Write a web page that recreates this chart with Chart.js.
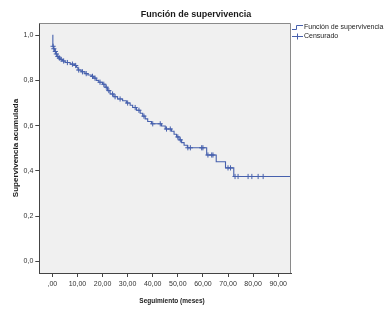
<!DOCTYPE html>
<html><head><meta charset="utf-8">
<script src="https://cdn.jsdelivr.net/npm/chart.js@4/dist/chart.umd.min.js"></script>
<style>html,body{margin:0;padding:0;background:#fff}canvas{display:block}</style>
</head><body>
<canvas id="c" width="390" height="314"></canvas>
<script>
// Kaplan-Meier step function (event times and survival after each event)
const stepTimes = [0, 0.2, 0.5, 0.9, 1.4, 1.9, 2.5, 3.1, 4.0, 5.1, 7.1, 9.0, 9.6, 10.2, 11.5, 13.0, 14.2, 15.5, 16.5, 17.5, 18.5, 20.0, 21.0, 22.0, 23.0, 24.5, 26.0, 28.0, 29.5, 31.0, 32.0, 33.5, 35.0, 36.0, 37.0, 38.0, 39.5, 43.5, 45.0, 47.5, 48.5, 49.5, 50.5, 51.5, 52.5, 53.8, 61.5, 65.3, 69.0, 72.3, 95.0];
const stepSurvival = [1.0, 0.951, 0.94, 0.928, 0.917, 0.906, 0.899, 0.893, 0.886, 0.879, 0.872, 0.866, 0.858, 0.846, 0.838, 0.830, 0.824, 0.818, 0.810, 0.800, 0.792, 0.783, 0.770, 0.755, 0.740, 0.728, 0.718, 0.710, 0.700, 0.690, 0.680, 0.668, 0.655, 0.642, 0.630, 0.618, 0.608, 0.598, 0.585, 0.575, 0.562, 0.550, 0.537, 0.525, 0.513, 0.502, 0.470, 0.440, 0.413, 0.375, 0.375];
// Censored observation times
const censorTimes = [0.3, 0.6, 1.2, 1.6, 2.2, 2.8, 3.5, 4.5, 6, 8, 9.3, 10.5, 12, 13.5, 16, 17, 19, 20.5, 21.5, 22.5, 24, 25, 27, 30, 33, 34.5, 36.5, 40, 43, 45.5, 47, 50, 51, 54, 55, 59.5, 60, 62, 63.5, 64, 70, 71, 72.8, 74, 78, 79.5, 82, 84];
const xTicks = [0, 10, 20, 30, 40, 50, 60, 70, 80, 90];
const xTickLabels = [',00', '10,00', '20,00', '30,00', '40,00', '50,00', '60,00', '70,00', '80,00', '90,00'];
const yTicks = [0, 0.2, 0.4, 0.6, 0.8, 1.0];
const yTickLabels = ['0,0', '0,2', '0,4', '0,6', '0,8', '1,0'];
const seriesNames = ['Función de supervivencia', 'Censurado'];
const chartTitle = 'Función de supervivencia';
const xTitle = 'Seguimiento (meses)';
const yTitle = 'Supervivencia acumulada';

const BLUE = '#4660ad';
const FONT = '"Liberation Sans", Arial, sans-serif';

function survivalAt(t) {
  let s = stepSurvival[0];
  for (let i = 0; i < stepTimes.length; i++) { if (stepTimes[i] <= t) s = stepSurvival[i]; }
  return s;
}
const kmData = stepTimes.map((t, i) => ({x: t, y: stepSurvival[i]}));
const censorData = censorTimes.map(t => ({x: t, y: survivalAt(t)}));

const decor = {
  id: 'decor',
  beforeDraw(chart) {
    const {ctx, chartArea: a} = chart;
    ctx.save();
    ctx.fillStyle = '#f0f0f0';
    ctx.fillRect(a.left, a.top, a.right - a.left, a.bottom - a.top);
    ctx.restore();
  },
  afterDraw(chart) {
    const {ctx, chartArea: a} = chart;
    ctx.save();
    ctx.strokeStyle = '#8a8a8a';
    ctx.lineWidth = 1;
    ctx.beginPath();
    ctx.moveTo(a.left, a.top + 0.5); ctx.lineTo(a.right - 0.5, a.top + 0.5); ctx.lineTo(a.right - 0.5, a.bottom);
    ctx.stroke();
    // title
    ctx.fillStyle = '#1a1a1a';
    ctx.textAlign = 'center';
    ctx.textBaseline = 'middle';
    ctx.font = 'bold 9px ' + FONT;
    ctx.fillText(chartTitle, 196, 15);
    ctx.font = 'bold 6.5px ' + FONT;
    ctx.fillText(xTitle, 172, 301);
    // legend
    ctx.strokeStyle = BLUE;
    ctx.lineWidth = 1;
    ctx.beginPath();
    ctx.moveTo(292, 29.5); ctx.lineTo(296.5, 29.5); ctx.lineTo(296.5, 25.5); ctx.lineTo(303, 25.5);
    ctx.stroke();
    ctx.beginPath();
    ctx.moveTo(292, 36.5); ctx.lineTo(303, 36.5);
    ctx.moveTo(297.5, 33.5); ctx.lineTo(297.5, 39.5);
    ctx.stroke();
    ctx.fillStyle = '#222';
    ctx.textAlign = 'left';
    ctx.font = '7px ' + FONT;
    ctx.fillText(seriesNames[0], 304, 27.5);
    ctx.fillText(seriesNames[1], 304, 36.5);
    ctx.restore();
  }
};

new Chart(document.getElementById('c'), {
  type: 'line',
  data: {
    datasets: [
      {label: seriesNames[0], data: kmData, stepped: true, borderColor: BLUE, borderWidth: 1.1, pointRadius: 0, fill: false},
      {label: seriesNames[1], data: censorData, showLine: false, borderColor: BLUE, backgroundColor: BLUE, pointStyle: 'cross', pointRadius: 2.6, pointBorderWidth: 1}
    ]
  },
  options: {
    responsive: false,
    animation: false,
    layout: {padding: {left: 0, right: 99, top: 23, bottom: 0}},
    plugins: {legend: {display: false}, title: {display: false}, tooltip: {enabled: false}},
    scales: {
      x: {
        type: 'linear', min: -5.2, max: 95.1,
        afterBuildTicks: s => { s.ticks = xTicks.map(v => ({value: v})); },
        afterFit: s => { s.height = 41; },
        ticks: {autoSkip: false, maxRotation: 0, padding: 3, color: '#333', font: {family: FONT, size: 7},
          callback: v => { const i = xTicks.indexOf(v); return i >= 0 ? xTickLabels[i] : ''; }},
        grid: {drawOnChartArea: false, drawTicks: true, tickLength: 4, color: '#444'},
        border: {display: true, color: '#444', width: 1}
      },
      y: {
        type: 'linear', min: -0.052, max: 1.054,
        afterBuildTicks: s => { s.ticks = yTicks.map(v => ({value: v})); },
        afterFit: s => { s.width = 39.3; },
        ticks: {autoSkip: false, padding: 2, color: '#333', font: {family: FONT, size: 7},
          callback: v => { const i = yTicks.findIndex(t => Math.abs(t - v) < 1e-9); return i >= 0 ? yTickLabels[i] : ''; }},
        grid: {drawOnChartArea: false, drawTicks: true, tickLength: 4, color: '#444'},
        border: {display: true, color: '#444', width: 1},
        title: {display: true, text: yTitle, color: '#1a1a1a', font: {family: FONT, size: 8, weight: 'bold'}, padding: {top: 10.5, bottom: 0}}
      }
    }
  },
  plugins: [decor]
});
</script>
</body></html>
